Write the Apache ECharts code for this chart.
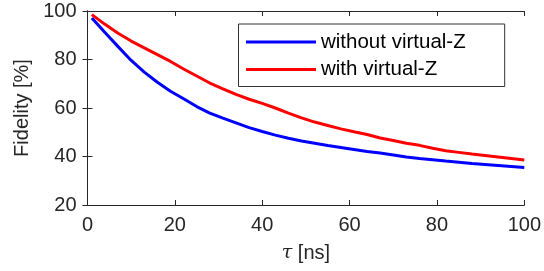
<!DOCTYPE html>
<html>
<head>
<meta charset="utf-8">
<script src="https://cdn.jsdelivr.net/npm/echarts@6/dist/echarts.min.js"></script>
<style>
html, body { margin: 0; padding: 0; background: #fff; }
#chart { width: 544px; height: 271px; }
</style>
</head>
<body>
<div id="chart"></div>
<script>
// tau [ns]
var tauNs = [1, 4, 7, 10, 13, 16, 19, 22, 25, 28, 31, 34, 37, 40, 43, 46, 49, 52,
	55, 58, 61, 64, 67, 70, 73, 76, 79, 82, 85, 88, 91, 94, 97, 100];
// fidelity [%] without virtual-Z
var withoutVZ = [97.1, 91.1, 85.3, 79.6, 74.8, 70.6, 66.9, 63.8, 60.6, 57.9, 55.8, 53.9,
	51.9, 50.3, 48.8, 47.5, 46.4, 45.5, 44.5, 43.7, 42.9, 42.1, 41.4, 40.6, 39.8, 39.2,
	38.7, 38.1, 37.6, 37.1, 36.7, 36.3, 35.9, 35.5];
// fidelity [%] with virtual-Z
var withVZ = [98.5, 94.5, 90.8, 87.6, 84.8, 82.0, 79.2, 76.1, 73.2, 70.3, 67.9, 65.6,
	63.6, 61.9, 60.0, 57.9, 55.9, 54.2, 52.8, 51.4, 50.2, 49.1, 47.6, 46.6, 45.5, 44.6,
	43.4, 42.4, 41.7, 41.0, 40.4, 39.8, 39.2, 38.6];
var seriesNames = ['without virtual-Z', 'with virtual-Z'];

var font = 'Liberation Sans';
var axisColor = '#262626';

function pairs(ys) {
	var out = [];
	for (var i = 0; i < tauNs.length; i++) out.push([tauNs[i], ys[i]]);
	return out;
}

var chart = echarts.init(document.getElementById('chart'));

// 公共坐标轴样式
var lineStyle = { color: axisColor, width: 1 };
var tickIn = { show: true, inside: true, length: 5, lineStyle: lineStyle };

var option = {
	animation: false,
	grid: { left: 87.5, right: 18.5, top: 11, bottom: 66 },
	legend: {
		orient: 'vertical',
		left: 238.5,
		top: 24,
		data: seriesNames,
		icon: 'rect',
		itemWidth: 70,
		itemHeight: 3,
		itemGap: 6.5,
		padding: [7.5, 39, 6.5, 7.5],
		borderColor: '#333',
		borderWidth: 1,
		backgroundColor: '#fff',
		textStyle: { fontFamily: font, fontSize: 20.5, color: '#000' }
	},
	xAxis: [{
		type: 'value', min: 0, max: 100, interval: 20,
		name: '{i|τ} [ns]',
		nameLocation: 'middle',
		nameGap: 38,
		nameTextStyle: {
			fontFamily: font, fontSize: 20, color: axisColor,
			rich: { i: { fontFamily: 'DejaVu Serif', fontStyle: 'italic', fontSize: 19, color: axisColor } }
		},
		axisLine: { show: true, lineStyle: lineStyle },
		axisTick: tickIn,
		axisLabel: { fontFamily: font, fontSize: 20, color: axisColor, margin: 10 },
		splitLine: { show: false }
	}, {
		type: 'value', min: 0, max: 100, interval: 20, position: 'top',
		axisLine: { show: true, lineStyle: lineStyle },
		axisTick: tickIn,
		axisLabel: { show: false },
		splitLine: { show: false }
	}],
	yAxis: [{
		type: 'value', min: 20, max: 100, interval: 20,
		name: 'Fidelity [%]',
		nameLocation: 'middle',
		nameGap: 49,
		nameTextStyle: { fontFamily: font, fontSize: 20, color: axisColor },
		axisLine: { show: true, lineStyle: lineStyle },
		axisTick: tickIn,
		axisLabel: { fontFamily: font, fontSize: 20, color: axisColor, margin: 11 },
		splitLine: { show: false }
	}, {
		type: 'value', min: 20, max: 100, interval: 20, position: 'right',
		axisLine: { show: true, lineStyle: lineStyle },
		axisTick: tickIn,
		axisLabel: { show: false },
		splitLine: { show: false }
	}],
	series: [{
		name: seriesNames[0],
		type: 'line',
		data: pairs(withoutVZ),
		showSymbol: false,
		color: '#0000ff',
		lineStyle: { width: 3, color: '#0000ff' }
	}, {
		name: seriesNames[1],
		type: 'line',
		data: pairs(withVZ),
		showSymbol: false,
		color: '#ff0000',
		lineStyle: { width: 3, color: '#ff0000' }
	}]
};

chart.setOption(option);
</script>
</body>
</html>
